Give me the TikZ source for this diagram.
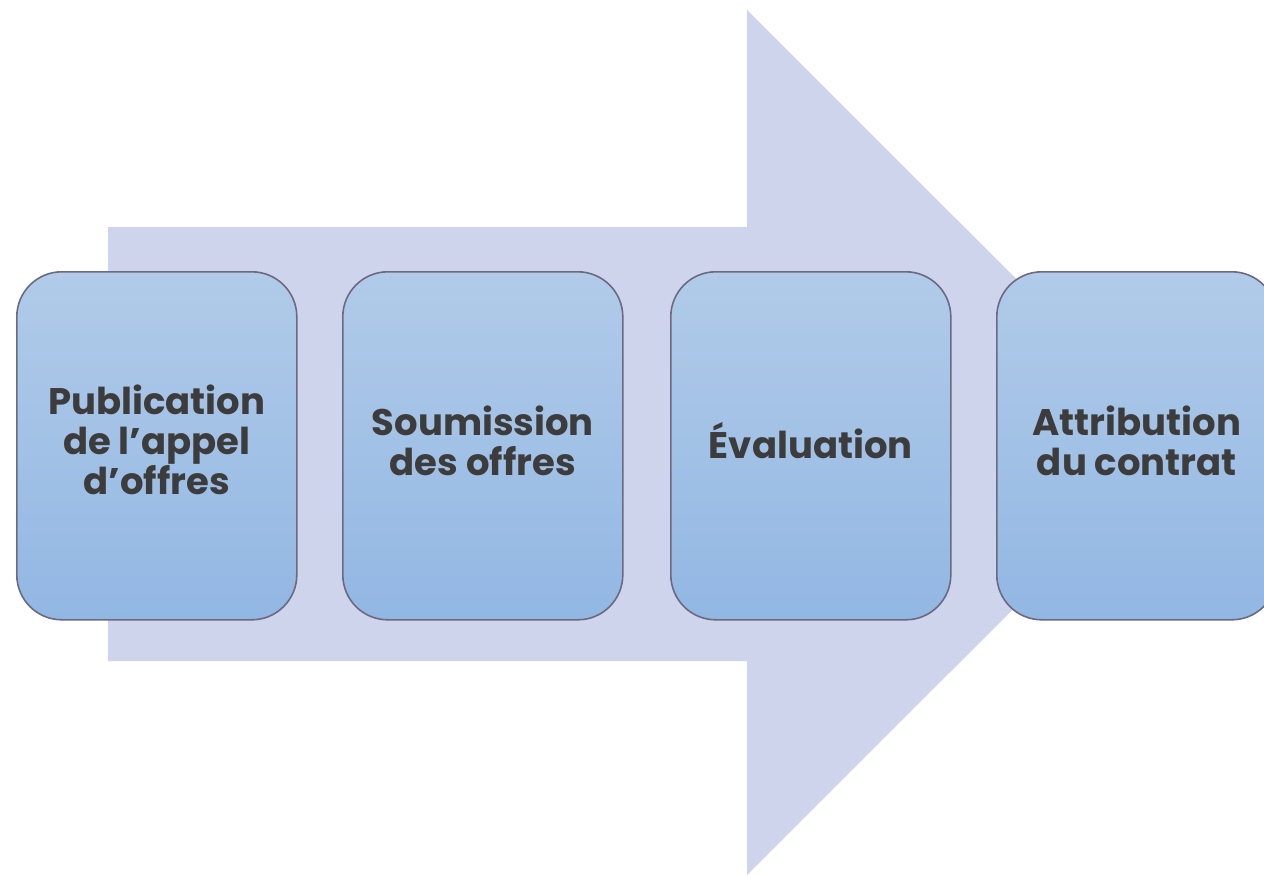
\documentclass[tikz,border=0pt]{standalone}
\usepackage{fontspec}
\setmainfont{Poppins}[UprightFont=* Bold]
\usetikzlibrary{positioning}
\definecolor{arrowfill}{HTML}{CED4EC}
\definecolor{boxtop}{HTML}{B1CBE9}
\definecolor{boxbot}{HTML}{92B7E3}
\definecolor{boxline}{HTML}{6B6A80}
\definecolor{txt}{HTML}{3C3C3C}
\tikzset{
  stepbox/.style={draw=boxline, line width=1.6pt, rounded corners=45pt,
    top color=boxtop, bottom color=boxbot, minimum width=280pt, minimum height=348pt,
    anchor=north west, inner sep=0pt},
  lbl/.style={font=\fontsize{37}{40}\selectfont, text=txt, align=center, inner sep=0pt},
}
\begin{document}
\begin{tikzpicture}[x=1pt,y=-1pt]
\useasboundingbox (0,0) rectangle (1264,875);
\clip (0,0) rectangle (1264,875);
\fill[arrowfill] (108,227) -- (747,227) -- (747,10) -- (1180,442.5) -- (747,875) -- (747,661) -- (108,661) -- cycle;
\node[stepbox] (b1) at (16,271) {};
\node[stepbox] (b2) at (342,271) {};
\node[stepbox] (b3) at (670,271) {};
\node[stepbox] (b4) at (996,271) {};
\node[lbl] (t1) at ([yshift=6pt]b1.center) {Publication\\de l’appel\\d’offres};
\node[lbl] (t2) at ([yshift=5pt]b2.center) {Soumission\\des offres};
\node[lbl] (t3) at ([yshift=5pt]b3.center) {Évaluation};
\node[lbl] (t4) at ([yshift=5pt]b4.center) {Attribution\\du contrat};
\end{tikzpicture}
\end{document}
